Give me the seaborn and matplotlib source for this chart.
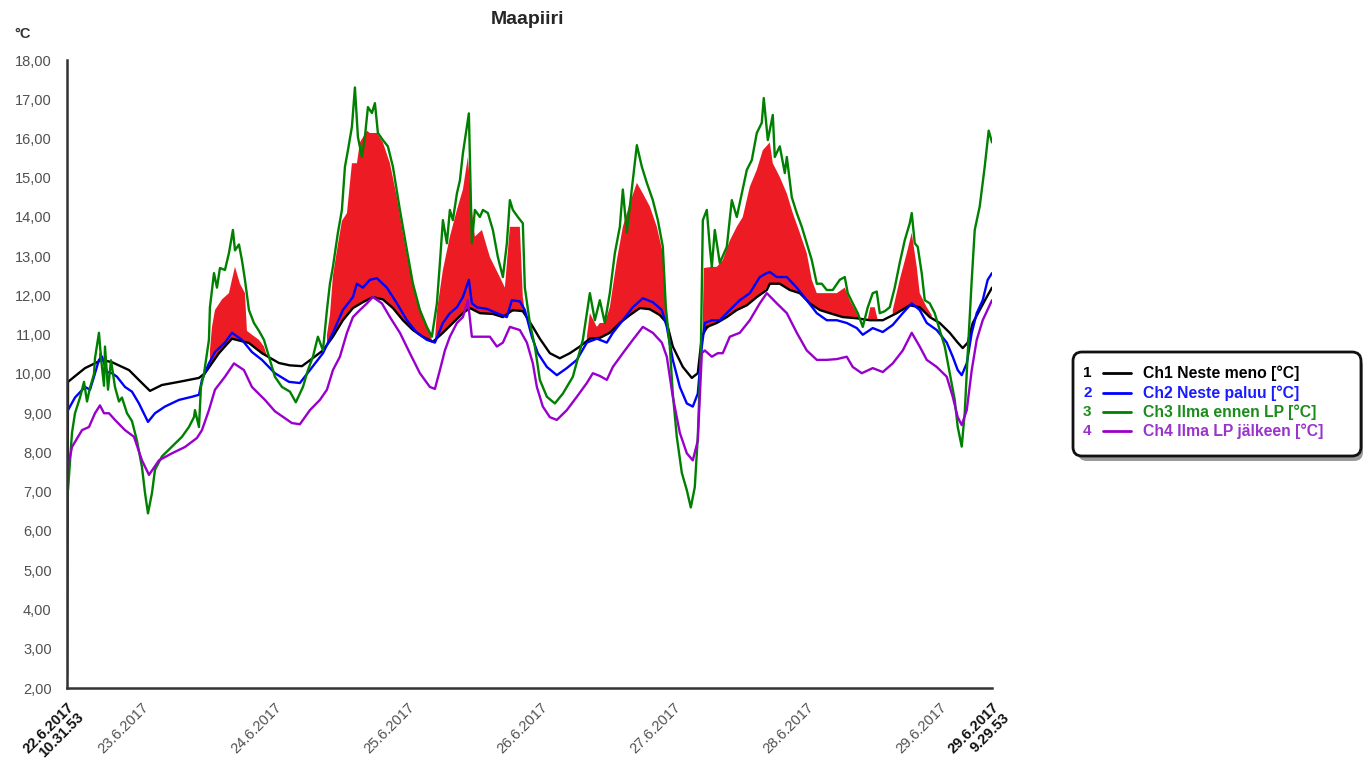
import numpy as np
import pandas as pd
import matplotlib
matplotlib.use("Agg")
import matplotlib.pyplot as plt
import seaborn as sns
from matplotlib.patches import FancyBboxPatch
from matplotlib.lines import Line2D
from matplotlib.transforms import IdentityTransform

# ---------------- data (hours since 22.6.2017 10.31.53, value in °C) ----------------
ch1_h = [0, 0.18, 3.25, 6.32, 8.12, 11.19, 13.53, 14.98, 17.14, 20.21, 23.82, 24.90, 27.43, 29.77,
         32.84, 35.19, 38.26, 40.24, 42.41, 43.85, 46.20, 48.00, 49.80, 51.61, 53.41, 55.22, 57.02,
         58.83, 60.63, 62.44, 64.24, 66.05, 67.85, 69.65, 71.46, 72.72, 74.53, 76.87, 78.68, 80.48,
         82.28, 84.09, 85.35, 87.16, 88.96, 90.77, 92.57, 94.38, 96.18, 97.98, 99.79, 101.59, 103.40,
         105.20, 107.01, 108.27, 109.35, 111.16, 112.78, 113.86, 114.59, 115.49, 117.29, 119.10,
         120.90, 122.71, 124.51, 126.32, 126.86, 128.66, 130.47, 132.27, 134.07, 135.88, 137.68,
         140.03, 142.56, 144.90, 147.25, 149.77, 152.12, 153.92, 155.73, 157.53, 159.34, 160.78,
         161.68, 162.59, 163.49, 164.75, 166.01, 166.97]
ch1_v = [2.3, 9.8, 10.15, 10.36, 10.3, 10.1, 9.77, 9.57, 9.72, 9.8, 9.9, 10.02, 10.53, 10.9,
         10.79, 10.53, 10.28, 10.22, 10.2, 10.35, 10.6, 10.95, 11.37, 11.68, 11.83, 11.96, 11.9,
         11.68, 11.37, 11.12, 10.95, 10.82, 11.05, 11.3, 11.55, 11.68, 11.55, 11.53, 11.45, 11.63,
         11.6, 11.2, 10.9, 10.53, 10.4, 10.53, 10.7, 10.9, 10.92, 11.05, 11.3, 11.5, 11.68,
         11.65, 11.5, 11.3, 10.7, 10.18, 9.9, 10.02, 10.95, 11.2, 11.3, 11.45,
         11.63, 11.75, 11.96, 12.14, 12.3, 12.3, 12.14, 12.06, 11.8, 11.63, 11.55,
         11.45, 11.42, 11.37, 11.37, 11.55, 11.75, 11.7, 11.45, 11.3, 11.05, 10.8,
         10.66, 10.8, 11.3, 11.63, 11.96, 12.2]

ch2_h = [0, 0.18, 1.44, 3.25, 4.15, 4.87, 5.77, 6.32, 7.22, 8.12, 9.02, 10.47, 11.73, 12.99, 14.62,
         15.88, 17.68, 20.21, 22.56, 23.82, 24.36, 25.62, 26.71, 28.51, 29.77, 31.58, 33.38, 35.19,
         37.53, 40.06, 42.04, 43.85, 46.20, 48.00, 49.80, 51.61, 52.33, 53.41, 54.68, 55.94, 57.74,
         59.55, 61.35, 63.16, 64.96, 66.41, 67.85, 69.11, 70.38, 71.46, 72.54, 73.08, 73.98, 75.79,
         77.59, 79.40, 80.30, 81.74, 82.64, 83.91, 84.99, 86.62, 88.42, 90.22, 92.03, 93.83, 95.64,
         97.44, 98.53, 100.33, 102.13, 103.94, 105.74, 107.37, 108.27, 109.35, 110.62, 111.88,
         112.96, 113.86, 114.59, 115.13, 116.39, 117.83, 119.64, 121.44, 123.25, 125.05, 126.32,
         126.86, 128.12, 129.93, 131.73, 133.53, 135.34, 137.14, 138.95, 140.75, 142.56, 143.64,
         145.44, 147.25, 149.05, 150.86, 152.48, 153.92, 155.19, 156.99, 158.80, 159.88, 160.78,
         161.50, 162.41, 163.31, 164.21, 165.29, 166.19, 166.97]
ch2_v = [9.0, 9.08, 9.4, 9.67, 9.6, 9.93, 10.36, 10.44, 10.05, 10.02, 9.93, 9.67, 9.55, 9.25, 8.78,
         9.0, 9.17, 9.34, 9.42, 9.47, 9.85, 10.27, 10.56, 10.8, 11.05, 10.87, 10.56, 10.36,
         10.02, 9.8, 9.77, 10.1, 10.53, 11.05, 11.63, 11.96, 12.3, 12.2, 12.4, 12.44, 12.2,
         11.8, 11.37, 11.05, 10.87, 10.8, 11.3, 11.55, 11.7, 11.96, 12.4, 11.8, 11.7, 11.66,
         11.55, 11.45, 11.88, 11.85, 11.63, 10.95, 10.53, 10.18, 9.97, 10.15, 10.36, 10.8, 10.9,
         10.8, 11.05, 11.37, 11.7, 11.93, 11.83, 11.63, 11.2, 10.36, 9.67, 9.25,
         9.17, 9.5, 10.7, 11.3, 11.37, 11.37, 11.63, 11.88, 12.06, 12.47, 12.57,
         12.6, 12.47, 12.47, 12.2, 11.88, 11.55, 11.37, 11.37, 11.3, 11.17, 11.0,
         11.17, 11.07, 11.25, 11.55, 11.8, 11.63, 11.3, 11.12, 10.8, 10.44, 10.1,
         9.97, 10.27, 11.05, 11.55, 11.88, 12.4, 12.57]

ch3_h = [0.0, 0.18, 0.90, 1.44, 2.35, 3.07, 3.61, 4.15, 4.87, 5.05, 5.77, 6.14, 6.68, 6.86, 7.40,
         7.94, 8.66, 9.38, 9.92, 10.83, 11.73, 12.63, 13.53, 14.08, 14.62, 15.34, 15.88, 17.14,
         18.95, 20.75, 22.01, 22.92, 23.10, 23.82, 24.18, 24.72, 25.62, 25.80, 26.53, 27.07, 27.61,
         28.51, 29.23, 29.95, 30.32, 31.04, 31.58, 32.12, 32.84, 33.74, 34.65, 35.55, 36.45, 37.53,
         38.80, 40.24, 41.30, 42.59, 43.49, 44.39, 45.29, 46.20, 46.92, 47.46, 48.00, 48.90, 49.62,
         50.17, 50.71, 51.43, 51.97, 52.51, 53.23, 53.77, 54.32, 55.04, 55.58, 56.12, 57.02, 57.92,
         58.83, 60.09, 61.35, 62.44, 63.70, 64.96, 65.86, 66.77, 67.31, 67.85, 68.57, 69.11, 69.65,
         70.38, 70.92, 71.46, 72.18, 72.54, 73.08, 73.62, 74.53, 75.07, 75.97, 76.87, 77.77, 78.68,
         79.40, 79.94, 80.48, 81.38, 82.28, 82.64, 83.55, 84.45, 85.35, 86.62, 88.06, 89.50, 91.31,
         93.11, 94.38, 95.28, 96.18, 97.08, 97.98, 98.89, 99.79, 100.33, 101.05, 101.95, 102.86,
         103.76, 104.66, 105.74, 106.65, 107.55, 108.09, 108.81, 109.35, 110.07, 110.98, 111.88,
         112.60, 113.32, 113.86, 114.41, 114.77, 115.49, 116.03, 116.39, 116.93, 117.83, 119.10,
         120.00, 120.90, 121.80, 122.71, 123.61, 124.51, 125.41, 125.77, 126.50, 127.40, 127.76,
         128.66, 129.57, 129.93, 130.83, 131.73, 132.63, 133.53, 134.44, 135.34, 136.24, 137.14,
         138.22, 139.49, 140.39, 140.93, 141.83, 142.74, 143.64, 144.54, 145.44, 146.16, 146.71,
         147.61, 148.51, 149.41, 150.31, 151.22, 152.12, 152.48, 153.02, 153.56, 154.28, 154.83,
         155.73, 156.63, 157.53, 158.44, 159.34, 160.24, 160.78, 161.50, 162.04, 162.59, 163.31,
         163.85, 164.75, 165.65, 166.37, 166.97]
ch3_v = [7.0, 7.04, 8.5, 9.0, 9.4, 9.8, 9.3, 9.65, 10.0, 10.4, 11.05, 10.4, 9.7, 10.7, 9.6,
         10.35, 9.67, 9.3, 9.4, 9.0, 8.8, 8.3, 7.63, 6.97, 6.45, 6.97, 7.56, 7.9,
         8.15, 8.4, 8.65, 8.9, 9.08, 8.65, 9.67, 10.0, 10.87, 11.7, 12.57, 12.2, 12.7,
         12.65, 13.08, 13.67, 13.15, 13.3, 12.9, 12.4, 11.63, 11.3, 11.1, 10.87, 10.44, 9.93,
         9.67, 9.55, 9.28, 9.67, 10.1, 10.44, 10.95, 10.6, 11.63, 12.3, 12.73, 13.6, 14.18,
         15.28, 15.7, 16.3, 17.3, 16.04, 15.53, 16.04, 16.8, 16.65, 16.9, 16.14, 15.96, 15.8,
         15.28, 14.18, 13.16, 12.3, 11.63, 11.2, 10.95, 11.8, 12.83, 13.92, 13.33, 14.18, 13.92,
         14.6, 14.93, 15.62, 16.3, 16.64, 13.33, 14.18, 14.0, 14.18, 14.1, 13.67, 12.98, 12.47,
         13.33, 14.43, 14.18, 14.0, 13.84, 12.2, 11.3, 10.7, 9.85, 9.42, 9.25, 9.5, 9.93,
         10.87, 12.06, 11.37, 11.88, 11.3, 12.06, 13.08, 13.75, 14.7, 13.6, 14.7, 15.83,
         15.28, 14.87, 14.43, 13.92, 13.24, 11.7, 10.7, 9.5, 8.4, 7.48, 7.04,
         6.6, 7.12, 8.4, 10.53, 13.92, 14.18, 13.24, 12.73, 13.67, 12.83, 13.24,
         14.43, 14.0, 14.6, 15.2, 15.45, 16.14, 16.4, 17.03, 15.96, 16.6, 15.53,
         15.8, 15.12, 15.53, 14.5, 14.1, 13.75, 13.33, 12.9, 12.3, 12.3, 12.14,
         12.14, 12.4, 12.47, 12.06, 11.8, 11.55, 11.2, 11.7, 12.06, 12.1, 11.55,
         11.6, 11.7, 12.2, 12.83, 13.41, 13.84, 14.1, 13.33, 13.24, 12.57, 11.88,
         11.8, 11.55, 11.12, 10.7, 10.02, 9.34, 8.65, 8.15, 9.0, 10.53, 12.4,
         13.67, 14.27, 15.28, 16.2, 15.9]

ch4_h = [0, 0.18, 0.90, 2.71, 3.97, 5.05, 5.95, 6.68, 7.58, 8.66, 10.47, 12.09, 13.53, 14.80,
         16.60, 18.95, 21.29, 23.46, 24.36, 25.62, 26.71, 28.51, 30.14, 31.94, 33.38, 35.73, 37.53,
         40.60, 42.04, 43.85, 45.65, 46.92, 48.00, 49.26, 50.53, 51.61, 52.87, 54.14, 55.22, 56.84,
         58.29, 60.09, 61.89, 63.70, 65.50, 66.41, 67.31, 68.21, 69.11, 70.38, 71.46, 72.36, 73.08,
         74.53, 76.33, 77.59, 78.68, 79.94, 81.74, 83.01, 84.09, 84.81, 85.89, 87.16, 88.42, 90.22,
         92.03, 93.83, 94.92, 96.18, 97.44, 98.53, 100.33, 102.13, 103.94, 105.74, 107.37, 108.27,
         109.35, 110.62, 111.88, 112.96, 113.86, 114.59, 115.13, 116.39, 117.47, 118.37, 119.64,
         121.44, 123.25, 125.05, 126.32, 128.12, 129.93, 131.73, 133.53, 135.34, 137.14, 138.95,
         140.75, 141.83, 143.46, 145.44, 147.25, 149.05, 150.86, 152.48, 153.92, 155.19, 156.99,
         158.80, 159.88, 160.78, 161.50, 162.41, 163.31, 164.21, 165.29, 166.97]
ch4_v = [7.6, 7.63, 8.14, 8.57, 8.65, 9.0, 9.2, 9.0, 9.0, 8.83, 8.57, 8.4, 7.8, 7.43,
         7.8, 7.98, 8.14, 8.37, 8.57, 9.08, 9.6, 9.93, 10.27, 10.1, 9.67, 9.34, 9.05,
         8.75, 8.72, 9.08, 9.34, 9.6, 10.1, 10.44, 11.05, 11.45, 11.63, 11.8, 11.96, 11.8,
         11.45, 11.05, 10.53, 10.02, 9.67, 9.62, 10.1, 10.6, 10.95, 11.3, 11.45, 11.88, 10.95,
         10.95, 10.95, 10.7, 10.8, 11.2, 11.12, 10.8, 10.27, 9.67, 9.17, 8.9, 8.83, 9.08,
         9.42, 9.77, 10.02, 9.95, 9.85, 10.18, 10.53, 10.87, 11.2, 11.05, 10.8, 10.44,
         9.42, 8.5, 7.98, 7.8, 8.3, 10.53, 10.6, 10.44, 10.53, 10.53, 10.95,
         11.05, 11.37, 11.8, 12.06, 11.8, 11.55, 11.05, 10.6, 10.36, 10.36, 10.38,
         10.44, 10.18, 10.02, 10.15, 10.05, 10.27, 10.6, 11.05, 10.7, 10.36, 10.18,
         9.93, 9.42, 8.9, 8.7, 9.08, 10.1, 10.87, 11.37, 11.88]

# red area (upper edge; NaN separates the separate areas)
nan = np.nan
red_h = [5.77, 6.14, 6.50, nan,
         25.80, 26.17, 26.71, 27.97, 29.23, 29.77, 30.32, 31.22, 32.12, 32.48, 33.38, 34.65, 35.55, 36.00, nan,
         46.92, 47.46, 48.00, 48.90, 49.62, 50.53, 51.43, 52.33, 52.87, 54.14, 54.68, 55.94, 57.02, 58.29,
         59.55, 60.63, 61.89, 63.16, 64.24, 65.50, 65.90, nan,
         66.41, 66.77, 67.85, 69.11, 70.38, 71.46, 72.36, 73.08, 73.62, 74.89, 76.33, 78.13, 79.04, 79.94,
         81.74, 82.28, 82.64, nan,
         93.83, 94.38, 95.64, 96.18, 97.08, 97.98, 99.25, 100.33, 101.59, 102.86, 103.94, 105.20, 106.47,
         107.55, 108.09, 108.30, nan,
         114.77, 114.95, 116.39, 117.29, 118.37, 119.64, 120.90, 121.98, 123.25, 124.51, 125.59, 126.86,
         127.40, 128.66, 129.93, 131.01, 132.27, 133.53, 134.44, 135.34, 137.14, 138.95, 140.39, 141.29,
         142.56, 143.00, nan,
         144.54, 145.00, 145.80, 146.30, nan,
         149.05, 150.31, 151.58, 152.48, 153.38, 153.92, 155.19, 156.09]
red_top = [10.5, 10.6, 10.4, nan,
           10.6, 11.2, 11.63, 11.9, 12.06, 12.4, 12.73, 12.3, 12.06, 11.1, 11.0, 10.87, 10.7, 10.5, nan,
           11.0, 11.5, 12.5, 13.3, 13.9, 14.1, 15.37, 15.37, 15.9, 16.2, 16.14, 16.14, 15.9, 15.37,
           14.5, 13.6, 12.65, 11.96, 11.45, 11.03, 10.85, nan,
           10.85, 11.6, 12.65, 13.5, 14.18, 14.7, 15.53, 14.18, 13.5, 13.67, 12.98, 12.47, 12.2, 13.75,
           13.75, 11.96, 11.6, nan,
           10.95, 11.55, 11.2, 11.3, 11.3, 11.7, 12.9, 13.75, 14.35, 14.87, 14.6, 14.27, 13.75,
           13.08, 12.0, 11.3, nan,
           11.45, 12.7, 12.73, 12.73, 12.9, 13.4, 13.75, 14.0, 14.77, 15.2, 15.7, 15.9,
           15.37, 15.02, 14.6, 14.1, 13.6, 13.08, 12.4, 12.06, 12.06, 12.06, 12.2, 11.88,
           11.55, 11.42, nan,
           11.4, 11.7, 11.7, 11.4, nan,
           11.63, 12.4, 13.08, 13.6, 12.73, 12.06, 11.7, 11.5]

channels = ["Ch1 Neste meno [°C]", "Ch2 Neste paluu [°C]", "Ch3 Ilma ennen LP [°C]", "Ch4 Ilma LP jälkeen [°C]"]
colors = ["#000000", "#0000FF", "#008000", "#9900CC"]
label_colors = ["#000000", "#1a1aff", "#1a8c1a", "#9933cc"]

y_ticks = np.arange(2, 19, 1)
start = pd.Timestamp("2017-06-22 10:31:53")
end = pd.Timestamp("2017-06-29 09:29:53")
day_ticks = pd.date_range("2017-06-23", "2017-06-29", freq="D")

# ---------------- figure ----------------
sns.set_style("white")
plt.rcParams["font.family"] = ["Liberation Sans", "DejaVu Sans"]

fig = plt.figure(figsize=(13.7, 7.72), dpi=100)
ax = fig.add_axes([67 / 1370, 1 - 688 / 772, (992 - 67) / 1370, (688 - 60) / 772])

frames = []
for name, h, v in zip(channels, [ch1_h, ch2_h, ch3_h, ch4_h], [ch1_v, ch2_v, ch3_v, ch4_v]):
    frames.append(pd.DataFrame({"hours": h, "value": v, "channel": name}))
df = pd.concat(frames, ignore_index=True)

# red area between the upper edge and Ch1
rh = np.array(red_h, dtype=float)
rt = np.array(red_top, dtype=float)
rl = np.interp(np.nan_to_num(rh), ch1_h, ch1_v)
rl[np.isnan(rh)] = np.nan
ax.fill_between(rh, rl, rt, color="#ED1C24", linewidth=0, zorder=1)

sns.lineplot(data=df, x="hours", y="value", hue="channel", hue_order=channels,
             palette=dict(zip(channels, colors)), estimator=None, sort=False,
             linewidth=1.7, legend=False, ax=ax, zorder=2)

end_h = (end - start) / pd.Timedelta("1h")
ax.set_xlim(0, end_h)
ax.set_ylim(2, 18)
ax.set_xlabel("")
ax.set_ylabel("")

tick_pos = [0.0] + [(d - start) / pd.Timedelta("1h") for d in day_ticks] + [end_h]
tick_lab = ["22.6.2017\n10.31.53"] + [f"{d.day}.{d.month}.{d.year}" for d in day_ticks] + ["29.6.2017\n9.29.53"]
ax.set_xticks(tick_pos)
ax.set_xticklabels(tick_lab, rotation=45, ha="right", va="top", rotation_mode="anchor",
                   multialignment="right", fontsize=10.5, color="#505050", linespacing=1.0)
labs = ax.get_xticklabels()
for t in (labs[0], labs[-1]):
    t.set_fontweight("bold")
    t.set_color("#111111")

ax.set_yticks(y_ticks)
ax.set_yticklabels([f"{v:.2f}".replace(".", ",") for v in y_ticks], fontsize=10.5, color="#505050")

for s in ("top", "right"):
    ax.spines[s].set_visible(False)
for s in ("left", "bottom"):
    ax.spines[s].set_color("#333333")
    ax.spines[s].set_linewidth(1.8)
ax.tick_params(axis="y", direction="out", length=6, width=1.4, color="#333333", pad=5)
ax.tick_params(axis="x", direction="out", length=6, width=1.4, color="#333333", pad=3)
ax.grid(False)

fig.text(527 / 1370, 1 - 20 / 772, "Maapiiri", ha="center", va="center",
         fontsize=14, fontweight="bold")
fig.text(14 / 1370, 1 - 34 / 772, "°C", ha="left", va="center", fontsize=10.5,
         fontweight="bold", color="#333333")

# ---------------- legend box ----------------
H = 772
idt = IdentityTransform()
shadow = FancyBboxPatch((1078, H - 461), 285, 104, boxstyle="round,pad=0,rounding_size=9",
                        transform=idt, facecolor="#9a9a9a", edgecolor="none", zorder=1)
box = FancyBboxPatch((1073, H - 456), 288, 104, boxstyle="round,pad=0,rounding_size=9",
                     transform=idt, facecolor="white", edgecolor="#111111", linewidth=2, zorder=2)
fig.patches.extend([shadow, box])
rows = [373, 393, 412, 431]
for i, (name, c, lc, y) in enumerate(zip(channels, colors, label_colors, rows)):
    fig.text(1083 / 1370, 1 - y / H, str(i + 1), ha="left", va="center", fontsize=11,
             fontweight="bold", color=lc, zorder=3)
    fig.lines.append(Line2D([1103, 1131], [H - y, H - y], transform=idt, color=c,
                            linewidth=2, zorder=3))
    fig.text(1143 / 1370, 1 - y / H, name, ha="left", va="center", fontsize=11.3,
             fontweight="bold", color=lc, zorder=3)

fig.savefig("out.png", dpi=100)
